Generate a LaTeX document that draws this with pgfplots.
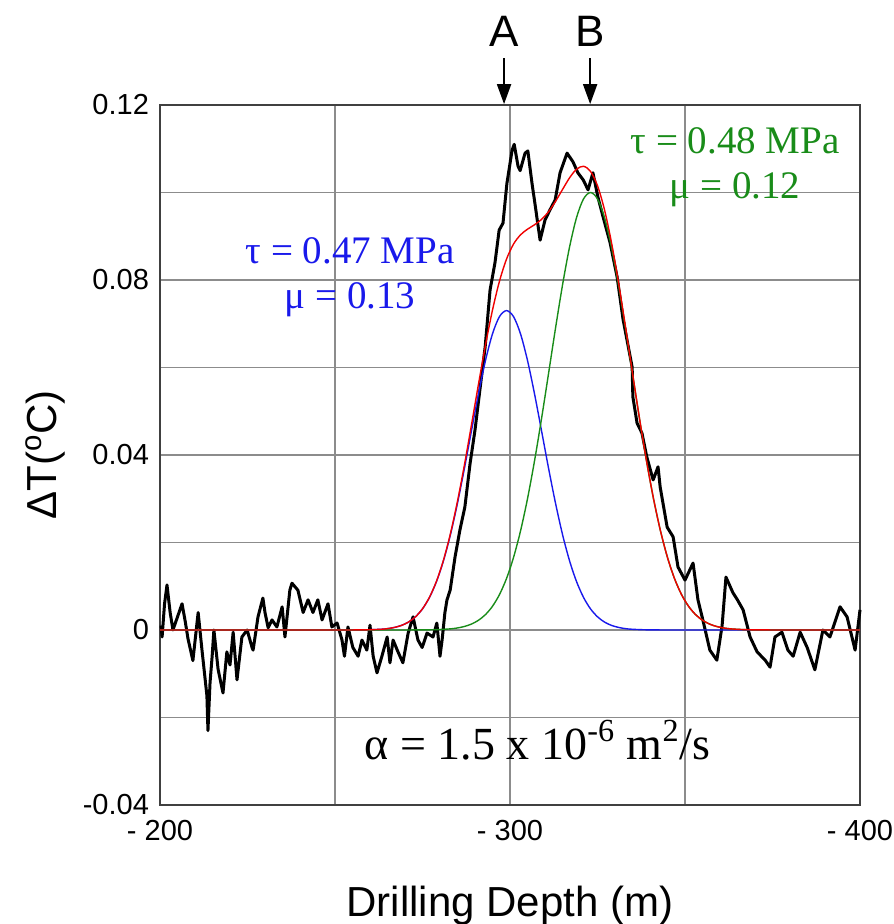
\documentclass[border=0pt]{standalone}
\usepackage{fontspec}
\setmainfont{Liberation Sans}
\newfontfamily\serifA{Liberation Serif}
\usepackage{pgfplots}
\pgfplotsset{compat=1.18}
\usetikzlibrary{arrows.meta}

\definecolor{grn}{RGB}{25,140,25}
\definecolor{blu}{RGB}{25,25,235}
\definecolor{rd}{RGB}{240,0,0}

\begin{document}
\begin{tikzpicture}
\path[use as bounding box] (-80pt,-59.5pt) rectangle (366.5pt,402.5pt);
\begin{axis}[
  width=350pt, height=350pt, scale only axis,
  xmin=200, xmax=400, ymin=-0.04, ymax=0.12,
  xtick={200,300,400}, xticklabels={- 200,- 300,- 400},
  minor xtick={250,350},
  ytick={-0.04,0,0.04,0.08,0.12}, yticklabels={-0.04,0,0.04,0.08,0.12},
  minor ytick={-0.02,0.02,0.06,0.1},
  grid=both,
  grid style={black!45, line width=0.8pt},
  minor grid style={black!45, line width=0.8pt},
  major tick length=0pt, minor tick length=0pt,
  axis line style={black!75, line width=0.8pt},
  tick label style={font=\fontsize{14.5}{17}\selectfont},
  xticklabel style={yshift=-4pt},
  yticklabel style={xshift=-2pt},
  xlabel={Drilling Depth (m)},
  ylabel={ΔT(\textsuperscript{o}C)},
  label style={font=\fontsize{21}{25}\selectfont},
  xlabel style={at={(axis description cs:0.5,-0.1590)}, anchor=base},
  ylabel style={at={(axis description cs:-0.1643,0.5)}, anchor=center},
  clip=false,
]
% measured temperature anomaly
\addplot[black, line width=1.5pt, line join=round] coordinates {
(200.3,0.0010) (200.6,-0.0016) (201.3,0.0060) (202.0,0.0103) (202.9,0.0040)
(203.7,0.0000) (205.0,0.0030) (206.3,0.0060) (207.2,0.0020) (208.0,-0.0020)
(209.4,-0.0070) (210.9,0.0040) (212.0,-0.0046) (213.4,-0.0150) (213.7,-0.0230)
(214.3,-0.0120) (214.9,-0.0060) (215.4,0.0000) (216.6,-0.0090) (218.0,-0.0144)
(219.1,-0.0050) (220.0,-0.0080) (220.9,-0.0005) (222.0,-0.0114) (223.4,-0.0016)
(224.9,0.0000) (226.3,-0.0040) (226.6,-0.0046) (228.0,0.0030) (229.4,0.0073)
(230.0,0.0040) (230.9,0.0005) (232.0,0.0023) (233.4,0.0007) (234.9,0.0053)
(235.7,-0.0016) (237.1,0.0091) (237.7,0.0107) (239.4,0.0091) (240.9,0.0040)
(242.3,0.0069) (243.7,0.0040) (245.1,0.0069) (246.3,0.0023) (248.0,0.0060)
(249.1,0.0007) (250.6,0.0016) (252.0,-0.0023) (252.7,-0.0060) (253.7,0.0007)
(255.1,-0.0040) (256.6,-0.0060) (257.7,-0.0023) (259.1,-0.0046) (260.0,0.0011)
(260.9,-0.0060) (262.0,-0.0098) (263.4,-0.0060) (264.9,-0.0016) (265.7,-0.0075)
(266.6,-0.0023) (268.0,-0.0050) (269.4,-0.0075) (270.9,-0.0007) (272.3,0.0030)
(273.7,-0.0023) (274.9,-0.0040) (276.3,-0.0007) (278.0,-0.0016) (279.1,0.0016)
(280.0,-0.0060) (280.6,-0.0023) (281.4,0.0040) (282.0,0.0069) (282.9,0.0091)
(284.3,0.0167) (285.7,0.0229) (287.1,0.0281) (288.6,0.0381) (290.0,0.0457)
(291.4,0.0549) (292.9,0.0647) (294.3,0.0777) (295.7,0.0839) (296.9,0.0914)
(298.0,0.0930) (299.1,0.1020) (300.6,0.1097) (301.2,0.1110) (302.3,0.1060)
(302.9,0.1050) (304.3,0.1090) (305.1,0.1095) (306.3,0.1020) (307.1,0.0976)
(308.6,0.0891) (310.0,0.0937) (311.4,0.0960) (312.9,0.0983) (314.3,0.1045)
(316.3,0.1090) (318.0,0.1070) (319.4,0.1045) (320.9,0.1029) (322.3,0.1006)
(323.7,0.1045) (325.1,0.0990) (326.6,0.0944) (328.6,0.0885) (330.6,0.0807)
(332.3,0.0710) (334.9,0.0601) (335.1,0.0533) (336.3,0.0473) (337.7,0.0450)
(339.1,0.0395) (340.9,0.0343) (342.3,0.0373) (342.9,0.0327) (344.9,0.0235)
(346.6,0.0213) (348.0,0.0144) (350.0,0.0114) (352.3,0.0153) (353.7,0.0069)
(355.1,0.0023) (357.1,-0.0046) (359.1,-0.0069) (360.6,0.0010) (361.7,0.0121)
(363.7,0.0085) (364.9,0.0070) (366.6,0.0046) (368.6,-0.0016) (370.6,-0.0050)
(372.9,-0.0069) (374.3,-0.0085) (375.7,-0.0016) (377.7,-0.0005) (379.4,-0.0046)
(380.9,-0.0060) (382.9,-0.0005) (384.9,-0.0040) (387.1,-0.0091) (389.4,0.0000)
(391.4,-0.0016) (394.3,0.0053) (396.3,0.0030) (398.6,-0.0046) (400.0,0.0046)
};
% model A
\addplot[blu, line width=0.7pt, smooth] coordinates {
(200,0) (240,0) (255,0.00001) (259,0.00004) (263,0.00016) (265,0.00031)
(267,0.00059) (269,0.00105) (271,0.00181) (273,0.00302) (275,0.00483)
(277,0.00746) (279,0.01108) (281,0.01585) (283,0.02184) (285,0.02899)
(287,0.03703) (289,0.04557) (291,0.05399) (293,0.06161) (295,0.06770)
(297,0.07164) (299,0.07300) (301,0.07164) (303,0.06770) (305,0.06161)
(307,0.05399) (309,0.04557) (311,0.03703) (313,0.02899) (315,0.02184)
(317,0.01585) (319,0.01108) (321,0.00746) (323,0.00483) (325,0.00302)
(327,0.00181) (329,0.00105) (331,0.00059) (333,0.00031) (335,0.00016)
(339,0.00004) (343,0.00001) (360,0) (400,0)
};
% model B
\addplot[grn, line width=0.7pt, smooth] coordinates {
(200,0) (250,0) (271,0.00001) (275,0.00002) (279,0.00008) (283,0.00026)
(285,0.00047) (287,0.00081) (289,0.00136) (291,0.00223) (293,0.00353)
(295,0.00543) (297,0.00811) (299,0.01176) (301,0.01656) (303,0.02262)
(305,0.03000) (307,0.03863) (309,0.04827) (311,0.05856) (313,0.06897)
(315,0.07884) (317,0.08748) (319,0.09423) (321,0.09853) (323,0.10000)
(325,0.09853) (327,0.09423) (329,0.08748) (331,0.07884) (333,0.06897)
(335,0.05856) (337,0.04827) (339,0.03863) (341,0.03000) (343,0.02262)
(345,0.01656) (347,0.01176) (349,0.00811) (351,0.00543) (353,0.00353)
(355,0.00223) (357,0.00136) (359,0.00081) (361,0.00047) (363,0.00026)
(367,0.00008) (371,0.00002) (375,0.00001) (395,0) (400,0)
};
% sum
\addplot[rd, line width=0.7pt, smooth] coordinates {
(200,0) (240,0) (255,0.00001) (259,0.00004) (263,0.00016) (265,0.00031)
(267,0.00059) (269,0.00105) (271,0.00181) (273,0.00302) (275,0.00485)
(277,0.00750) (279,0.01116) (281,0.01599) (283,0.02210) (285,0.02946)
(287,0.03784) (289,0.04693) (291,0.05622) (293,0.06514) (295,0.07313)
(297,0.07975) (299,0.08476) (301,0.08820) (303,0.09032) (305,0.09161)
(307,0.09262) (309,0.09384) (311,0.09559) (313,0.09796) (315,0.10068)
(317,0.10333) (319,0.10531) (321,0.10599) (323,0.10483) (325,0.10155)
(327,0.09604) (329,0.08853) (331,0.07943) (333,0.06928) (335,0.05872)
(337,0.04835) (339,0.03867) (341,0.03002) (343,0.02263) (345,0.01656)
(347,0.01176) (349,0.00811) (351,0.00543) (353,0.00353) (355,0.00223)
(357,0.00136) (359,0.00081) (361,0.00047) (363,0.00026) (367,0.00008)
(371,0.00002) (375,0.00001) (395,0) (400,0)
};
% annotations
\node[blu, anchor=base, align=center, font={\serifA\fontsize{19.5}{22.5}\selectfont}]
  at (axis cs:254.3,0.0734) {τ = 0.47 MPa\\μ = 0.13};
\node[grn, anchor=base, align=center, font={\serifA\fontsize{19.5}{22.5}\selectfont}]
  at (axis cs:364.3,0.0987) {τ = 0.48 MPa\\μ = 0.12};
\node[black, anchor=base, font={\serifA\fontsize{23}{27}\selectfont}]
  at (axis cs:307.9,-0.0297) {α = 1.5 x 10\textsuperscript{-6} m\textsuperscript{2}/s};
\draw[line width=1pt, -{Triangle[length=10pt,width=7pt]}] (axis cs:298.3,0.1307) -- (axis cs:298.3,0.1202);
\draw[line width=1pt, -{Triangle[length=10pt,width=7pt]}] (axis cs:322.9,0.1307) -- (axis cs:322.9,0.1202);
\node[anchor=base, font=\fontsize{22}{26}\selectfont] at (axis cs:298.3,0.1333) {A};
\node[anchor=base, font=\fontsize{22}{26}\selectfont] at (axis cs:322.9,0.1333) {B};
\end{axis}
\end{tikzpicture}
\end{document}
